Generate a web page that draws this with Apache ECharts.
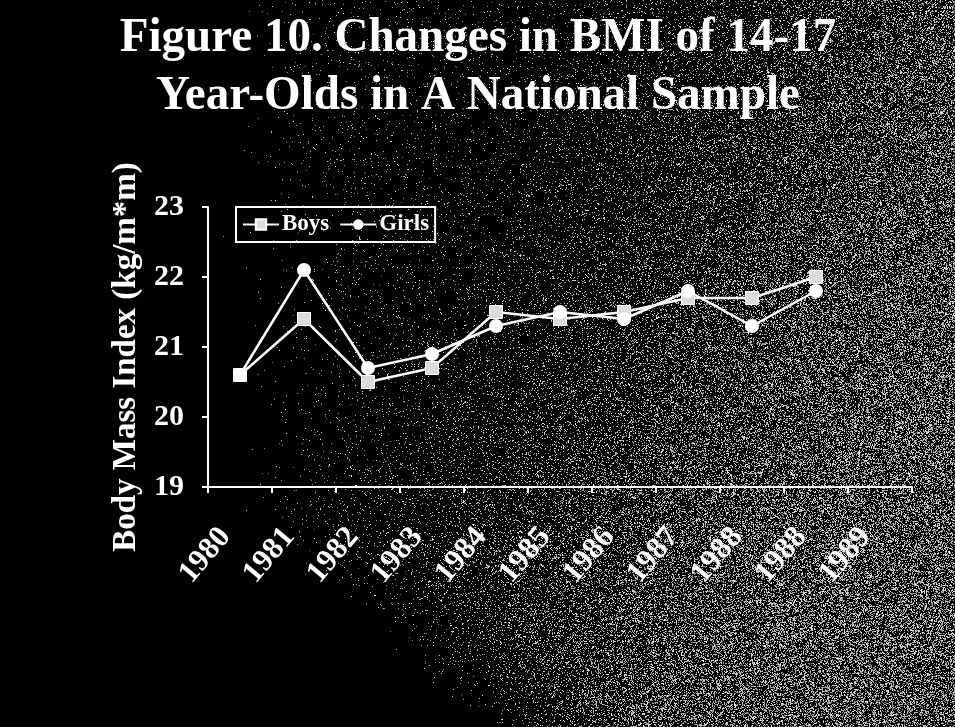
<!DOCTYPE html>
<html>
<head>
<meta charset="utf-8">
<script src="https://cdn.jsdelivr.net/npm/echarts@6/dist/echarts.min.js"></script>
<style>
  html, body { margin: 0; padding: 0; background: #000; }
  #wrap { position: relative; width: 955px; height: 727px; overflow: hidden; }
  #grain, #chart { position: absolute; left: 0; top: 0; width: 955px; height: 727px; }
</style>
</head>
<body>
<div id="wrap">
  <canvas id="grain" width="955" height="727"></canvas>
  <div id="chart"></div>
</div>
<script>
// Survey years (the 1988 survey appears twice in the source series)
const years = ['1980', '1981', '1982', '1983', '1984', '1985', '1986', '1987', '1988', '1988', '1989'];
// Mean BMI (kg/m*m), 14-17 year-olds
const boysBMI  = [20.6, 21.4, 20.5, 20.7, 21.5, 21.4, 21.5, 21.7, 21.7, 22.0, null];
const girlsBMI = [20.6, 22.1, 20.7, 20.9, 21.3, 21.5, 21.4, 21.8, 21.3, 21.8, null];
const yTicks = { min: 19, max: 23, step: 1 };
const titleLines = ['Figure 10. Changes in BMI of 14-17', 'Year-Olds in A National Sample'];

// Grainy backdrop: dark on the left, speckled grey towards the right
(function paintGrain() {
  const cv = document.getElementById('grain');
  const ctx = cv.getContext('2d');
  const W = cv.width, H = cv.height;
  const img = ctx.createImageData(W, H);
  function hash(x, y, s) {
    let h = (x * 374761393 + y * 668265263 + s * 982451653) | 0;
    h = (h ^ (h >>> 13)) * 1274126177 | 0;
    h = h ^ (h >>> 16);
    return (h >>> 0) / 4294967296;
  }
  function smooth(a, b, v) {
    const t = Math.min(1, Math.max(0, (v - a) / (b - a)));
    return t * t * (3 - 2 * t);
  }
  for (let y = 0; y < H; y++) {
    for (let x = 0; x < W; x++) {
      const d = 0.9 * x + 0.434 * y;
      let dens = 0.03 * smooth(120, 260, x) + 0.36 * smooth(450, 1050, d);
      // the lower-left corner stays black
      dens *= smooth(-40, 140, x - 260 - Math.max(0, y - 520) * 1.25);
      const i = (y * W + x) * 4;
      let v = 0;
      if (hash(x, y, 1) < dens) v = 120 + Math.floor(hash(x, y, 2) * 120);
      img.data[i] = v; img.data[i + 1] = v; img.data[i + 2] = v; img.data[i + 3] = 255;
    }
  }
  ctx.putImageData(img, 0, 0);
})();

const serif = '"Liberation Serif", "Times New Roman", serif';
const chart = echarts.init(document.getElementById('chart'), null, { renderer: 'canvas' });

chart.setOption({
  backgroundColor: 'transparent',
  animation: false,
  graphic: titleLines.map((t, k) => ({
    type: 'text',
    x: 478,
    y: 39 + k * 58,
    scaleX: 0.98,
    style: {
      text: t,
      fill: '#fff',
      font: 'bold 48px ' + serif,
      textAlign: 'center',
      textVerticalAlign: 'middle'
    }
  })),
  legend: {
    left: 236,
    top: 207,
    orient: 'horizontal',
    itemWidth: 36,
    itemHeight: 13,
    itemGap: 10,
    padding: [6, 6, 6, 6],
    borderColor: '#fff',
    borderWidth: 2,
    textStyle: { color: '#fff', fontFamily: serif, fontWeight: 'bold', fontSize: 23, padding: [0, 0, 0, -2] },
    data: ['Boys', 'Girls']
  },
  grid: { left: 208, right: 43, top: 207, bottom: 240, containLabel: false },
  xAxis: {
    type: 'category',
    data: years,
    boundaryGap: true,
    axisLine: { lineStyle: { color: '#fff', width: 2 } },
    axisTick: { show: true, length: 6, lineStyle: { color: '#fff', width: 2 } },
    axisLabel: {
      color: '#fff',
      fontFamily: serif,
      fontWeight: 'bold',
      fontSize: 31,
      rotate: 50,
      margin: 27,
      padding: [0, 23, 0, 0],
      interval: 0
    },
    splitLine: { show: false }
  },
  yAxis: {
    type: 'value',
    min: yTicks.min,
    max: yTicks.max,
    interval: yTicks.step,
    name: 'Body Mass Index (kg/m*m)',
    nameLocation: 'middle',
    nameGap: 63,
    nameTextStyle: { color: '#fff', fontFamily: serif, fontWeight: 'bold', fontSize: 33, padding: [0, 20, 0, 0] },
    axisLine: { show: true, lineStyle: { color: '#fff', width: 2 } },
    axisTick: { show: true, length: 6, lineStyle: { color: '#fff', width: 2 } },
    axisLabel: { color: '#fff', fontFamily: serif, fontWeight: 'bold', fontSize: 30, margin: 24 },
    splitLine: { show: false }
  },
  series: [
    {
      name: 'Boys',
      type: 'line',
      data: boysBMI,
      symbol: 'rect',
      symbolSize: 13,
      itemStyle: { color: '#dcdcdc', borderColor: '#fff', borderWidth: 1 },
      lineStyle: { color: '#fff', width: 2.5 },
      z: 3
    },
    {
      name: 'Girls',
      type: 'line',
      data: girlsBMI,
      symbol: 'circle',
      symbolSize: 14,
      itemStyle: { color: '#fff' },
      lineStyle: { color: '#fff', width: 2.5 },
      z: 4
    }
  ]
});
</script>
</body>
</html>
